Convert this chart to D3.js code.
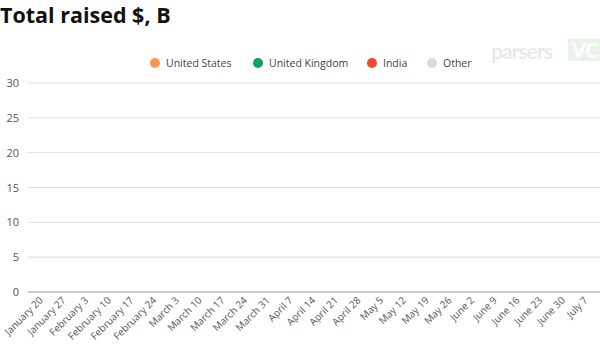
<!DOCTYPE html>
<html><head><meta charset="utf-8">
<script src="https://cdn.jsdelivr.net/npm/d3@7"></script>
<style>body{margin:0;background:#fff;font-family:"Open Sans",sans-serif;}</style>
</head><body><svg id="c" width="600" height="350"></svg>
<script>
const weeks = ["January 20","January 27","February 3","February 10","February 17","February 24","March 3","March 10","March 17","March 24","March 31","April 7","April 14","April 21","April 28","May 5","May 12","May 19","May 26","June 2","June 9","June 16","June 23","June 30","July 7"];
const seriesNames = ["United States","United Kingdom","India","Other"];
const seriesColors = ["#FF9650","#0AA55A","#F4462A","#D9D9D9"];
const usValues = [0,0,0,0,0,0,0,0,0,0,0,0,0,0,0,0,0,0,0,0,0,0,0,0,0];
const ukValues = [0,0,0,0,0,0,0,0,0,0,0,0,0,0,0,0,0,0,0,0,0,0,0,0,0];
const indiaValues = [0,0,0,0,0,0,0,0,0,0,0,0,0,0,0,0,0,0,0,0,0,0,0,0,0];
const otherValues = [0,0,0,0,0,0,0,0,0,0,0,0,0,0,0,0,0,0,0,0,0,0,0,0,0];
const yTicks = [0,5,10,15,20,25,30];

const svg = d3.select("#c");
svg.append("text").attr("x",0).attr("y",23).attr("font-size",21.5).attr("font-weight",700)
  .attr("font-family","'Open Sans',sans-serif").attr("fill","#111").text("Total raised $, B");

// logo
const logo = svg.append("g").attr("opacity",0.2);
logo.append("text").attr("x",491).attr("y",59).attr("font-size",21).attr("font-weight",700)
  .attr("font-family","Lato,sans-serif").attr("fill","#8a9a8a").attr("letter-spacing",-1).text("parsers");
logo.append("rect").attr("x",568).attr("y",39).attr("width",32).attr("height",22).attr("fill","#9bc59b");
logo.append("text").attr("x",572).attr("y",58).attr("font-size",20).attr("font-weight",700)
  .attr("font-family","Lato,sans-serif").attr("fill","#fff").text("VC");

const x = d3.scaleBand().domain(weeks).range([28,600]).padding(0.2);
const y = d3.scaleLinear().domain([0,30]).range([292,83]);

const g = svg.append("g");
g.selectAll("line.grid").data(yTicks).join("line")
  .attr("x1",28).attr("x2",600).attr("y1",d=>y(d)).attr("y2",d=>y(d))
  .attr("stroke",d=>d===0?"#999":"#ddd").attr("stroke-width",1);
g.selectAll("text.yl").data(yTicks).join("text")
  .attr("x",19).attr("y",d=>y(d)+4).attr("text-anchor","end").attr("font-size",11)
  .attr("fill","#555").text(d=>d);

const data = weeks.map((w,i)=>({w, "United States":usValues[i],"United Kingdom":ukValues[i],"India":indiaValues[i],"Other":otherValues[i]}));
const stack = d3.stack().keys(seriesNames)(data);
svg.append("g").selectAll("g").data(stack).join("g").attr("fill",(d,i)=>seriesColors[i])
  .selectAll("rect").data(d=>d).join("rect")
  .attr("x",d=>x(d.data.w)).attr("width",x.bandwidth())
  .attr("y",d=>y(d[1])).attr("height",d=>y(d[0])-y(d[1]));

svg.selectAll("text.xl").data(weeks).join("text")
  .attr("transform",d=>`translate(${x(d)+x.bandwidth()/2+2},${301}) rotate(-45)`)
  .attr("text-anchor","end").attr("font-size",10).attr("fill","#555").text(d=>d);

// legend
const lx = [155,258,372,432];
const lg = svg.append("g");
seriesNames.forEach((n,i)=>{
  lg.append("circle").attr("cx",lx[i]).attr("cy",63).attr("r",5).attr("fill",seriesColors[i]);
  lg.append("text").attr("x",lx[i]+11).attr("y",67).attr("font-size",10.5).attr("fill","#444").text(n);
});
</script></body></html>
